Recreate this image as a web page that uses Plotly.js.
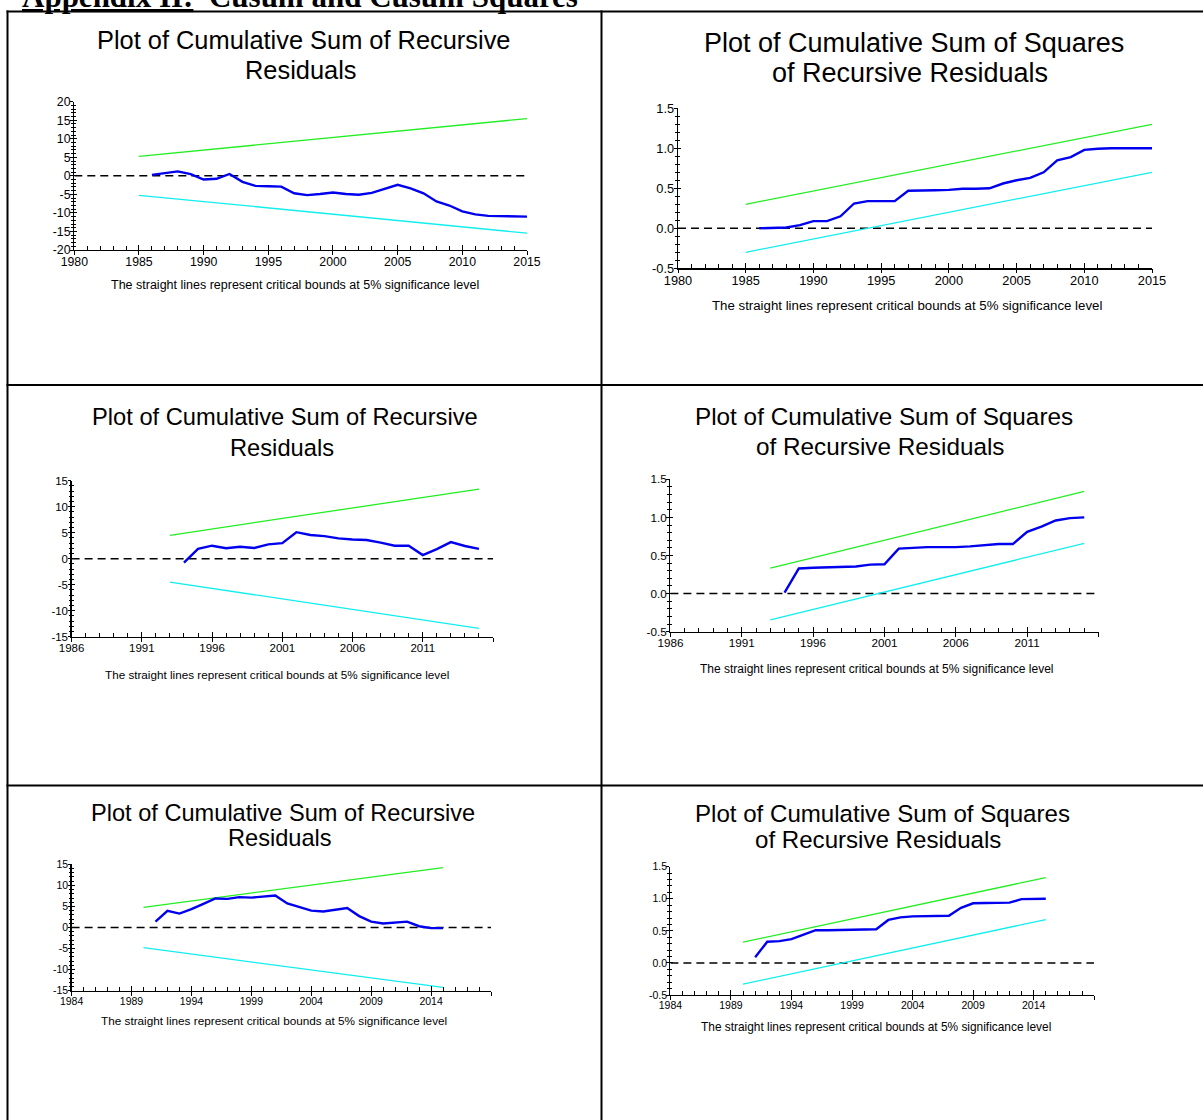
<!DOCTYPE html>
<html>
<head>
<meta charset="utf-8">
<script src="https://cdn.plot.ly/plotly-3.0.1.min.js"></script>
<style>html,body{margin:0;padding:0;background:#fff;}#chart{width:1203px;height:1120px;}</style>
</head>
<body>
<div id="chart"></div>
<script>
// ---------------- DATA ----------------
// Panel 1: CUSUM (model 1)
const p1Years = [1986,1987,1988,1989,1990,1991,1992,1993,1994,1995,1996,1997,1998,1999,2000,2001,2002,2003,2004,2005,2006,2007,2008,2009,2010,2011,2012,2013,2014,2015];
const p1Cusum = [0.27,0.8,1.2,0.45,-1.0,-0.8,0.5,-1.6,-2.7,-2.8,-2.9,-4.7,-5.2,-4.9,-4.5,-4.9,-5.1,-4.6,-3.6,-2.4,-3.4,-4.7,-6.9,-8.0,-9.6,-10.4,-10.8,-10.8,-10.8,-11.0];
const p1BoundYears = [1985, 2015];
const p1Upper = [5.25, 15.45];
const p1Lower = [-5.25, -15.45];
const p1ZeroYears = [1980, 2015];
const p1XTicks = [1980,1985,1990,1995,2000,2005,2010,2015];
const p1XLabels = ['1980','1985','1990','1995','2000','2005','2010','2015'];
const p1YTicks = [-20,-15,-10,-5,0,5,10,15,20];
const p1YLabels = ['-20','-15','-10','-5','0','5','10','15','20'];

// Panel 2: CUSUMSQ (model 1)
const p2Years = [1986,1987,1988,1989,1990,1991,1992,1993,1994,1995,1996,1997,1998,1999,2000,2001,2002,2003,2004,2005,2006,2007,2008,2009,2010,2011,2012,2013,2014,2015];
const p2CusumSq = [0.0,0.005,0.01,0.04,0.09,0.09,0.15,0.31,0.34,0.34,0.34,0.47,0.47,0.475,0.48,0.495,0.495,0.5,0.56,0.6,0.63,0.7,0.85,0.89,0.98,0.995,1.0,1.0,1.0,1.0];
const p2BoundYears = [1985, 2015];
const p2Upper = [0.30, 1.30];
const p2Lower = [-0.30, 0.70];
const p2ZeroYears = [1980, 2015];
const p2XTicks = [1980,1985,1990,1995,2000,2005,2010,2015];
const p2XLabels = ['1980','1985','1990','1995','2000','2005','2010','2015'];
const p2YTicks = [-0.5,0,0.5,1.0,1.5];
const p2YLabels = ['-0.5','0.0','0.5','1.0','1.5'];

// Panel 3: CUSUM (model 2)
const p3Years = [1994,1995,1996,1997,1998,1999,2000,2001,2002,2003,2004,2005,2006,2007,2008,2009,2010,2011,2012,2013,2014,2015];
const p3Cusum = [-0.77,1.9,2.5,2.0,2.3,2.05,2.75,3.0,5.1,4.55,4.35,3.9,3.7,3.6,3.1,2.5,2.5,0.7,1.85,3.2,2.45,1.9];
const p3BoundYears = [1993, 2015];
const p3Upper = [4.5, 13.4];
const p3Lower = [-4.5, -13.4];
const p3ZeroYears = [1986, 2016];
const p3XTicks = [1986,1991,1996,2001,2006,2011,2016];
const p3XLabels = ['1986','1991','1996','2001','2006','2011',''];
const p3YTicks = [-15,-10,-5,0,5,10,15];
const p3YLabels = ['-15','-10','-5','0','5','10','15'];

// Panel 4: CUSUMSQ (model 2)
const p4Years = [1994,1995,1996,1997,1998,1999,2000,2001,2002,2003,2004,2005,2006,2007,2008,2009,2010,2011,2012,2013,2014,2015];
const p4CusumSq = [0.013,0.33,0.34,0.345,0.35,0.355,0.38,0.385,0.59,0.6,0.61,0.61,0.61,0.62,0.63,0.65,0.65,0.81,0.88,0.96,0.99,1.0];
const p4BoundYears = [1993, 2015];
const p4Upper = [0.335, 1.34];
const p4Lower = [-0.345, 0.66];
const p4ZeroYears = [1986, 2016];
const p4XTicks = [1986,1991,1996,2001,2006,2011,2016];
const p4XLabels = ['1986','1991','1996','2001','2006','2011',''];
const p4YTicks = [-0.5,0,0.5,1.0,1.5];
const p4YLabels = ['-0.5','0.0','0.5','1.0','1.5'];

// Panel 5: CUSUM (model 3)
const p5Years = [1991,1992,1993,1994,1995,1996,1997,1998,1999,2000,2001,2002,2003,2004,2005,2006,2007,2008,2009,2010,2011,2012,2013,2014,2015];
const p5Cusum = [1.4,3.96,3.3,4.35,5.6,6.9,6.8,7.2,7.1,7.35,7.6,5.7,4.8,4.0,3.8,4.2,4.6,2.7,1.4,0.95,1.2,1.4,0.3,-0.15,-0.15];
const p5BoundYears = [1990, 2015];
const p5Upper = [4.8, 14.2];
const p5Lower = [-4.8, -14.2];
const p5ZeroYears = [1984, 2019];
const p5XTicks = [1984,1989,1994,1999,2004,2009,2014,2019];
const p5XLabels = ['1984','1989','1994','1999','2004','2009','2014',''];
const p5YTicks = [-15,-10,-5,0,5,10,15];
const p5YLabels = ['-15','-10','-5','0','5','10','15'];

// Panel 6: CUSUMSQ (model 3)
const p6Years = [1991,1992,1993,1994,1995,1996,1997,1998,1999,2000,2001,2002,2003,2004,2005,2006,2007,2008,2009,2010,2011,2012,2013,2014,2015];
const p6CusumSq = [0.09,0.33,0.34,0.37,0.44,0.51,0.51,0.515,0.515,0.52,0.525,0.67,0.71,0.725,0.725,0.73,0.735,0.86,0.93,0.935,0.935,0.94,0.995,1.0,1.0];
const p6BoundYears = [1990, 2015];
const p6Upper = [0.325, 1.33];
const p6Lower = [-0.33, 0.675];
const p6ZeroYears = [1984, 2019];
const p6XTicks = [1984,1989,1994,1999,2004,2009,2014,2019];
const p6XLabels = ['1984','1989','1994','1999','2004','2009','2014',''];
const p6YTicks = [-0.5,0,0.5,1.0,1.5];
const p6YLabels = ['-0.5','0.0','0.5','1.0','1.5'];

const titleCusum = ['Plot of Cumulative Sum of Recursive', 'Residuals'];
const titleCusumSq = ['Plot of Cumulative Sum of Squares', 'of Recursive Residuals'];
const footnote = 'The straight lines represent critical bounds at 5% significance level';
const heading = '<u>Appendix II:</u>&nbsp; Cusum and Cusum Squares';

// ---------------- LAYOUT ----------------
const W = 1203, H = 1120;
const fx = p => p / W;
const fy = p => 1 - p / H;

const SANS = 'Liberation Sans, Arial, sans-serif';

const panels = [
  {years:p1Years, vals:p1Cusum, by:p1BoundYears, up:p1Upper, lo:p1Lower, zy:p1ZeroYears, xt:p1XTicks, xl:p1XLabels, yt:p1YTicks, yl:p1YLabels, title:titleCusum,
   xr:[1980,2015], yr:[-20,20], px:[74.3,527], py:[101.7,250], yminor:1,
   t1:[303.5,40], t2:[301,69.5], tsize:25.4, ft:[295,285], fsize:12.5, ksize:12.3},
  {years:p2Years, vals:p2CusumSq, by:p2BoundYears, up:p2Upper, lo:p2Lower, zy:p2ZeroYears, xt:p2XTicks, xl:p2XLabels, yt:p2YTicks, yl:p2YLabels, title:titleCusumSq,
   xr:[1980,2015], yr:[-0.5,1.5], px:[678,1152], py:[108.3,268.3], yminor:0.1,
   t1:[913.8,43], t2:[909.6,73], tsize:27, ft:[906.7,305], fsize:13.25, ksize:12.8},
  {years:p3Years, vals:p3Cusum, by:p3BoundYears, up:p3Upper, lo:p3Lower, zy:p3ZeroYears, xt:p3XTicks, xl:p3XLabels, yt:p3YTicks, yl:p3YLabels, title:titleCusum,
   xr:[1986,2016], yr:[-15,15], px:[71.6,493], py:[480.7,636.7], yminor:1,
   t1:[285,416.7], t2:[281.7,448.3], tsize:23.7, ft:[277.3,674], fsize:11.7, ksize:11.5},
  {years:p4Years, vals:p4CusumSq, by:p4BoundYears, up:p4Upper, lo:p4Lower, zy:p4ZeroYears, xt:p4XTicks, xl:p4XLabels, yt:p4YTicks, yl:p4YLabels, title:titleCusumSq,
   xr:[1986,2016], yr:[-0.5,1.5], px:[670.4,1098.5], py:[479.3,631.7], yminor:0.1,
   t1:[884,416], t2:[880.2,446.7], tsize:24.3, ft:[877.3,668.7], fsize:12, ksize:11.7},
  {years:p5Years, vals:p5Cusum, by:p5BoundYears, up:p5Upper, lo:p5Lower, zy:p5ZeroYears, xt:p5XTicks, xl:p5XLabels, yt:p5YTicks, yl:p5YLabels, title:titleCusum,
   xr:[1984,2019], yr:[-15,15], px:[71.6,491], py:[864.3,990.7], yminor:1,
   t1:[283.4,813.3], t2:[280.1,838.3], tsize:23.6, ft:[273.8,1020.7], fsize:11.75, ksize:10.5},
  {years:p6Years, vals:p6CusumSq, by:p6BoundYears, up:p6Upper, lo:p6Lower, zy:p6ZeroYears, xt:p6XTicks, xl:p6XLabels, yt:p6YTicks, yl:p6YLabels, title:titleCusumSq,
   xr:[1984,2019], yr:[-0.5,1.5], px:[670.4,1094.2], py:[866.7,995], yminor:0.1,
   t1:[882,813.3], t2:[878.3,839.3], tsize:24.1, ft:[875.6,1026.7], fsize:11.9, ksize:10.5}
];

const traces = [];
const layout = {
  width: W, height: H,
  margin: {l:0, r:0, t:0, b:0},
  paper_bgcolor: '#ffffff', plot_bgcolor: 'rgba(0,0,0,0)',
  showlegend: false,
  annotations: [], shapes: []
};

panels.forEach((p, i) => {
  const k = i + 1, o = i + 7;
  const xa = 'x' + k, ya = 'y' + k, xo = 'x' + o, yo = 'y' + o;
  const xdom = [fx(p.px[0]), fx(p.px[1])];
  const ydom = [fy(p.py[1]), fy(p.py[0])];

  traces.push({x:p.zy, y:p.zy.map(() => 0), xaxis:xa, yaxis:ya, mode:'lines', line:{color:'#000000', width:1.5, dash:'8px,5px'}, hoverinfo:'skip'});
  traces.push({x:p.by, y:p.up, xaxis:xa, yaxis:ya, mode:'lines', line:{color:'#22ee22', width:1.3}, hoverinfo:'skip'});
  traces.push({x:p.by, y:p.lo, xaxis:xa, yaxis:ya, mode:'lines', line:{color:'#11eeee', width:1.3}, hoverinfo:'skip'});
  traces.push({x:p.years, y:p.vals, xaxis:xa, yaxis:ya, mode:'lines', line:{color:'#0000ee', width:2.4}});
  traces.push({x:[], y:[], xaxis:xo, yaxis:yo, mode:'lines', hoverinfo:'skip'});

  const tf = {family:SANS, size:p.ksize, color:'#000000'};
  layout['xaxis' + k] = {
    domain:xdom, range:p.xr, anchor:ya, tickmode:'array', tickvals:p.xt, ticktext:p.xl,
    ticks:'inside', ticklen:5, tickwidth:1, tickcolor:'#000',
    minor:{tick0:p.xr[0], dtick:1, ticks:'inside', ticklen:4, tickwidth:1, tickcolor:'#000', showgrid:false},
    showline:true, linecolor:'#000', linewidth:1.3, showgrid:false, zeroline:false,
    tickfont:tf, fixedrange:true
  };
  layout['yaxis' + k] = {
    domain:ydom, range:p.yr, anchor:xa, tickmode:'array', tickvals:p.yt, ticktext:p.yl,
    ticks:'inside', ticklen:3, tickwidth:1, tickcolor:'#000',
    minor:{tick0:p.yr[0], dtick:p.yminor, ticks:'inside', ticklen:2, tickwidth:1, tickcolor:'#000', showgrid:false},
    showline:true, linecolor:'#000', linewidth:1.3, showgrid:false, zeroline:false,
    tickfont:tf, fixedrange:true
  };
  layout['xaxis' + o] = {
    overlaying:xa, anchor:yo, range:p.xr, tickmode:'array', tickvals:p.xt,
    ticks:'outside', ticklen:4, tickwidth:1, tickcolor:'#000',
    showticklabels:false, showline:false, showgrid:false, zeroline:false, fixedrange:true
  };
  layout['yaxis' + o] = {
    overlaying:ya, anchor:xo, side:'left', range:p.yr, tickmode:'array', tickvals:p.yt,
    ticks:'outside', ticklen:3, tickwidth:1, tickcolor:'#000',
    minor:{tick0:p.yr[0], dtick:p.yminor, ticks:'outside', ticklen:2, tickwidth:1, tickcolor:'#000', showgrid:false},
    showticklabels:false, showline:false, showgrid:false, zeroline:false, fixedrange:true
  };

  layout.annotations.push({xref:'paper', yref:'paper', x:fx(p.t1[0]), y:fy(p.t1[1]), xanchor:'center', yanchor:'middle', showarrow:false,
    text:p.title[0], font:{family:SANS, size:p.tsize, color:'#000'}});
  layout.annotations.push({xref:'paper', yref:'paper', x:fx(p.t2[0]), y:fy(p.t2[1]), xanchor:'center', yanchor:'middle', showarrow:false,
    text:p.title[1], font:{family:SANS, size:p.tsize, color:'#000'}});
  layout.annotations.push({xref:'paper', yref:'paper', x:fx(p.ft[0]), y:fy(p.ft[1]), xanchor:'center', yanchor:'middle', showarrow:false,
    text:footnote, font:{family:SANS, size:p.fsize, color:'#000'}});
});

// Heading (partly cut off at the top, as in the source page)
layout.annotations.push({xref:'paper', yref:'paper', x:fx(20), y:fy(-4), xanchor:'left', yanchor:'middle', showarrow:false,
  text:'<b>' + heading + '</b>', font:{family:'Liberation Serif, Times New Roman, serif', size:31, color:'#000'}});

// Table borders
const lineStyle = {color:'#000000', width:2};
const hLines = [11.5, 385, 785.5];
const vLines = [7.5, 601.5];
hLines.forEach(y => layout.shapes.push({type:'line', xref:'paper', yref:'paper', x0:fx(6.5), x1:1, y0:fy(y), y1:fy(y), line:lineStyle}));
vLines.forEach(x => layout.shapes.push({type:'line', xref:'paper', yref:'paper', x0:fx(x), x1:fx(x), y0:fy(10.5), y1:0, line:lineStyle}));

Plotly.newPlot('chart', traces, layout, {staticPlot:true, displayModeBar:false});
</script>
</body>
</html>
